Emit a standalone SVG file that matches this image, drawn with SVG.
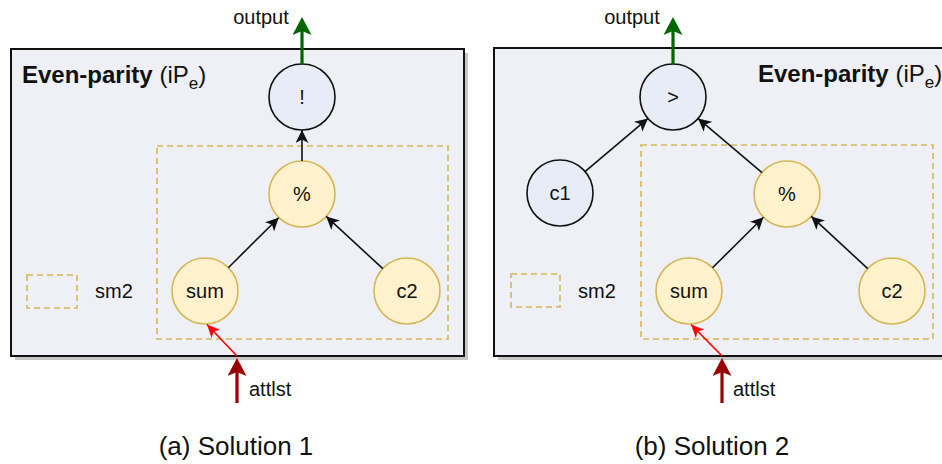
<svg xmlns="http://www.w3.org/2000/svg" width="942" height="464" viewBox="0 0 942 464">
<style>
text{font-family:"Liberation Sans",Arial,Helvetica,sans-serif;fill:#111}
.lbl{font-size:20px}
.nl{font-size:20px;text-anchor:middle}
.cap{font-size:26px;text-anchor:middle}
.ttl{font-size:24px}
.b{font-weight:bold}
.panel{fill:#EEF0F6;stroke:#111;stroke-width:2}
.shadow{fill:#C6C6C6}
.gray{fill:#E8ECF6;stroke:#111;stroke-width:1.6}
.yel{fill:#FFF2CC;stroke:#D6B656;stroke-width:1.6}
.dash{fill:none;stroke:#D6B656;stroke-width:1.6;stroke-dasharray:6 4}
.blk{stroke:#111;stroke-width:1.6;fill:none;marker-end:url(#ab)}
.red{stroke:#FF0000;stroke-width:1.6;fill:none;marker-end:url(#ar)}
.grn{stroke:#006600;stroke-width:3.2;fill:none;marker-end:url(#ag)}
.drd{stroke:#990000;stroke-width:3.2;fill:none;marker-end:url(#ad)}
</style>
<defs>
<marker id="ab" markerUnits="userSpaceOnUse" viewBox="0 0 13 13" markerWidth="13" markerHeight="13" refX="13" refY="6.5" orient="auto"><path d="M0,0 L13,6.5 L0,13 L3.5,6.5 z" fill="#111"/></marker>
<marker id="ar" markerUnits="userSpaceOnUse" viewBox="0 0 13 12" markerWidth="13" markerHeight="12" refX="13" refY="6" orient="auto"><path d="M0,0 L13,6 L0,12 L3.5,6 z" fill="#FF0000"/></marker>
<marker id="ag" markerUnits="userSpaceOnUse" viewBox="0 0 18 19" markerWidth="18" markerHeight="19" refX="4" refY="9.5" orient="auto"><path d="M0,0 L18,9.5 L0,19 L4,9.5 z" fill="#006600"/></marker>
<marker id="ad" markerUnits="userSpaceOnUse" viewBox="0 0 18 19" markerWidth="18" markerHeight="19" refX="4" refY="9.5" orient="auto"><path d="M0,0 L18,9.5 L0,19 L4,9.5 z" fill="#990000"/></marker>
</defs>

<!-- Panel (a) -->
<g id="panel-a">
<rect class="shadow" x="15" y="53" width="453" height="307"/>
<rect class="panel" x="11" y="49" width="453" height="307"/>
<text class="ttl" x="22" y="83"><tspan class="b">Even-parity</tspan> (iP<tspan font-size="17" dy="6">e</tspan><tspan dy="-6">)</tspan></text>
</g>
<g id="sm2-a"><rect class="dash" x="157" y="146" width="291" height="193"/></g>
<g id="legend-a"><rect class="dash" x="27" y="275" width="50" height="33"/><text class="lbl" x="95" y="298">sm2</text></g>
<g id="not-a"><circle class="gray" cx="302" cy="97" r="33"/><text class="nl" x="302" y="104">!</text></g>
<g id="mod-a"><circle class="yel" cx="302" cy="194" r="33"/><text class="nl" x="302" y="201">%</text></g>
<g id="sum-a"><circle class="yel" cx="205" cy="291" r="33"/><text class="nl" x="205" y="298">sum</text></g>
<g id="c2-a"><circle class="yel" cx="407" cy="291" r="33"/><text class="nl" x="407" y="298">c2</text></g>
<g id="output-a"><text class="lbl" x="261" y="24" text-anchor="middle">output</text></g>
<g id="attlst-a"><text class="lbl" x="249" y="396">attlst</text></g>
<text class="cap" x="236" y="455">(a) Solution 1</text>

<!-- Panel (b) -->
<g id="panel-b">
<rect class="shadow" x="498" y="52" width="460" height="308"/>
<rect class="panel" x="494" y="48" width="460" height="308"/>
<text class="ttl" x="758" y="82"><tspan class="b">Even-parity</tspan> (iP<tspan font-size="17" dy="6">e</tspan><tspan dy="-6">)</tspan></text>
</g>
<g id="sm2-b"><rect class="dash" x="641" y="145" width="292" height="194"/></g>
<g id="legend-b"><rect class="dash" x="511" y="274" width="49" height="33"/><text class="lbl" x="578" y="298">sm2</text></g>
<g id="gt-b"><circle class="gray" cx="673" cy="97" r="33"/><text class="nl" x="673" y="104">&gt;</text></g>
<g id="c1-b"><circle class="gray" cx="560" cy="193" r="33"/><text class="nl" x="560" y="200">c1</text></g>
<g id="mod-b"><circle class="yel" cx="787" cy="194" r="33"/><text class="nl" x="787" y="201">%</text></g>
<g id="sum-b"><circle class="yel" cx="689" cy="291" r="33"/><text class="nl" x="689" y="298">sum</text></g>
<g id="c2-b"><circle class="yel" cx="892" cy="291" r="33"/><text class="nl" x="892" y="298">c2</text></g>
<g id="output-b"><text class="lbl" x="632" y="24" text-anchor="middle">output</text></g>
<g id="attlst-b"><text class="lbl" x="733" y="396">attlst</text></g>
<text class="cap" x="712" y="455">(b) Solution 2</text>

<g id="connectors">
<line class="blk" x1="302" y1="161" x2="302" y2="130"/>
<line class="blk" x1="228.3" y1="267.7" x2="278.7" y2="217.7"/>
<line class="blk" x1="382.8" y1="268.6" x2="326.2" y2="216.4"/>
<line class="red" x1="237" y1="356" x2="207" y2="324.5"/>
<line class="grn" x1="302" y1="64" x2="302" y2="31"/>
<line class="drd" x1="237" y1="403" x2="237" y2="372"/>

<line class="blk" x1="585" y1="171.6" x2="648" y2="118.4"/>
<line class="blk" x1="762" y1="172.6" x2="698" y2="118.4"/>
<line class="blk" x1="712.5" y1="267.8" x2="763.5" y2="217.2"/>
<line class="blk" x1="867.7" y1="268.6" x2="811.3" y2="216.4"/>
<line class="red" x1="722" y1="356" x2="691" y2="324.5"/>
<line class="grn" x1="673" y1="64" x2="673" y2="31"/>
<line class="drd" x1="722" y1="403" x2="722" y2="372"/>
</g>
</svg>
